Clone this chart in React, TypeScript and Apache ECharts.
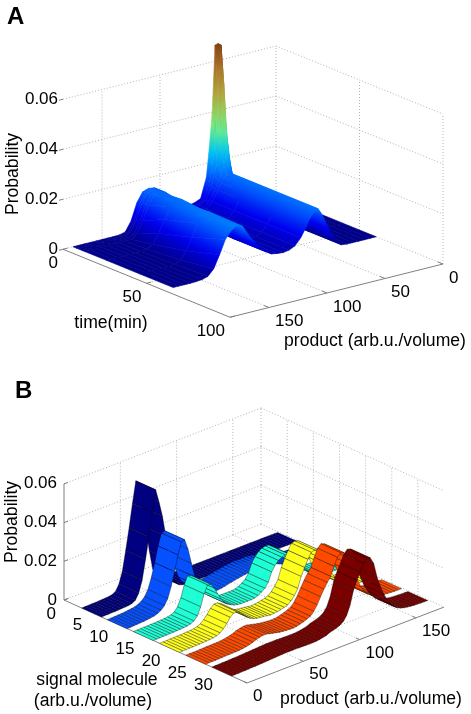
import React, { useEffect, useRef } from "react";
import * as echarts from "echarts";

// ---------- Panel A data ----------
const timeTicksA = [0, 50, 100];
const productTicksA = [0, 50, 100, 150];
const probTicks = [0, 0.02, 0.04, 0.06];
const rowTimesA = [0, 1.8, 3, 5.4, 7, 20, 40, 60];
const productColsA = [0, 5, 10, 15, 20, 25, 30, 35, 40, 45, 47.5, 50, 52.5, 55, 57.5, 60, 65, 70, 75, 80, 85, 90, 95, 100, 105, 110, 115, 120, 125, 130, 135, 140, 145, 150, 155, 160, 165, 170, 175];
const probT0 = [0, 0, 0, 0, 0, 0, .0005, .004, .012, .045, .066, .0668, .0665, .04, .026, .0145, .0065, .0055, .005, .0045, .0045, .0048, .0065, .011, .0155, .0158, .015, .0112, .0045, .0007, .0001, 0, 0, 0, 0, 0, 0, 0, 0];
const probT2 = [0, 0, 0, 0, 0, 0, .0004, .0035, .01, .03, .05, .0665, .045, .028, .019, .0125, .0065, .0055, .005, .0045, .0045, .0048, .0065, .0108, .0155, .016, .0152, .0115, .0048, .0009, .0001, 0, 0, 0, 0, 0, 0, 0, 0];
const probT3 = [0, 0, 0, 0, 0, 0, .0004, .003, .009, .022, .033, .045, .03, .021, .016, .0115, .0068, .0052, .0046, .0042, .0042, .0046, .0063, .0105, .0155, .0161, .0154, .012, .0055, .0012, .0002, 0, 0, 0, 0, 0, 0, 0, 0];
const probT5 = [0, 0, 0, 0, 0, 0, .0003, .0028, .008, .0145, .019, .0256, .02, .0165, .014, .0112, .0072, .005, .004, .0036, .0038, .0042, .0063, .0105, .0155, .0162, .0155, .0122, .006, .0015, .0002, 0, 0, 0, 0, 0, 0, 0, 0];
const probT7 = [0, 0, 0, 0, 0, 0, .0003, .0028, .0072, .0125, .015, .017, .0165, .0155, .014, .0112, .0072, .0047, .0035, .003, .0033, .004, .0065, .0105, .0155, .0162, .0155, .0122, .0065, .0018, .0003, 0, 0, 0, 0, 0, 0, 0, 0];
const probT20 = [0, 0, 0, 0, 0, 0, .0003, .0028, .007, .0125, .015, .017, .0163, .0154, .0138, .0112, .0072, .0045, .0034, .003, .0032, .0037, .0055, .0085, .0135, .0168, .017, .015, .0105, .0055, .0018, .0005, .0001, 0, 0, 0, 0, 0, 0];
const probT40 = [0, 0, 0, 0, 0, 0, .0003, .0028, .007, .0125, .015, .017, .0163, .0154, .0138, .0112, .0072, .0045, .0034, .003, .0032, .0036, .005, .0078, .0115, .0155, .0178, .0175, .0145, .0095, .0045, .0015, .0004, .0001, 0, 0, 0, 0, 0];
const probT60 = [0, 0, 0, 0, 0, 0, .0003, .0028, .007, .0125, .015, .017, .0162, .0152, .0138, .0112, .0072, .0045, .0034, .003, .0032, .0036, .005, .0072, .0102, .0135, .0175, .0184, .017, .014, .0085, .0035, .001, .0003, .0001, 0, 0, 0, 0];
const rowsA = [probT0, probT2, probT3, probT5, probT7, probT20, probT40, probT60];

// colour scale of panel A
const scaleZ = [0, .008, .017, .025, .034, .045, .055, .067];
const scaleColors = ["#000088", "#0000f0", "#0070ff", "#00c8f0", "#70f080", "#b0b040", "#b08030", "#844014"];

// ---------- Panel B data ----------
const signalTicksB = [0, 5, 10, 15, 20, 25, 30];
const productTicksB = [0, 50, 100, 150];
const ribbonCenters = [5.3, 10.2, 15.2, 20.2, 25.2, 30.2];
const ribbonColors = ["#000080", "#0550ff", "#1effd6", "#ffff1e", "#ff4a00", "#7a0000"];
const productStepB = 3; // sampling step of each ribbon
const ribbon1 = [0, .0001, .0001, .0002, .0002, .0003, .0004, .0005, .0006, .001, .002, .005, .011, .021, .032, .044, .055, .048, .04, .029, .016, .006, .003, .0012, .0006, .0003, .0003, .0002, .0002, .0002, .0002, .0001, .0001, .0001, .0001, .0001, .0001, .0001, .0001, .0001, .0001, .0001, .0001, .0001, .0001, .0001, .0001, .0001, .0001, .0001, .0001, .0001, .0001, .0001, .0001, .0001, .0001, .0001, 0];
const ribbon2 = [0, .0001, .0002, .0003, .0004, .0005, .0007, .0009, .0012, .0018, .0028, .0045, .0075, .013, .02, .028, .034, .0345, .029, .021, .0134, .008, .005, .003, .002, .0018, .0018, .002, .0022, .0025, .003, .0033, .0037, .004, .0043, .0046, .0048, .005, .005, .005, .005, .005, .0048, .0045, .004, .0032, .0024, .0018, .0012, .0008, .0005, .0003, .0002, .0001, .0001, .0001, .0001, .0001, 0];
const ribbon3 = [0, .0001, .0001, .0002, .0002, .0003, .0003, .0004, .0005, .0006, .0008, .0012, .002, .004, .008, .014, .018, .0175, .015, .0115, .008, .0055, .004, .003, .0022, .0018, .0016, .0016, .0016, .0016, .0018, .0024, .0035, .0048, .0072, .0119, .0145, .0165, .0175, .018, .0178, .0165, .014, .0115, .009, .0065, .0045, .003, .002, .0013, .0008, .0005, .0003, .0002, .0001, .0001, .0001, .0001, 0];
const ribbon4 = [0, .0001, .0001, .0002, .0002, .0003, .0003, .0004, .0005, .0006, .0008, .0012, .002, .0035, .0055, .008, .0095, .0095, .0085, .0065, .0048, .0035, .0027, .0022, .002, .0018, .0015, .0012, .0014, .0016, .002, .0024, .003, .0045, .0065, .0095, .015, .019, .0225, .0255, .026, .0255, .023, .019, .015, .011, .0075, .005, .0033, .0021, .0013, .0008, .0005, .0003, .0002, .0001, .0001, .0001, 0];
const ribbon5 = [0, .0001, .0001, .0001, .0002, .0002, .0003, .0003, .0004, .0004, .0005, .0007, .001, .0014, .002, .0027, .0032, .0035, .0035, .003, .0026, .0022, .0018, .0016, .0014, .0013, .0013, .0015, .002, .0025, .0032, .004, .0058, .0085, .012, .0152, .018, .0205, .025, .029, .0307, .03, .027, .0225, .0175, .013, .009, .006, .004, .0027, .0018, .0012, .0008, .0005, .0003, .0002, .0001, .0001, 0];
const ribbon6 = [0, .0001, .0001, .0002, .0002, .0003, .0004, .0004, .0005, .0006, .0007, .0008, .0009, .001, .0011, .0012, .0013, .0013, .0013, .0013, .0012, .0012, .0011, .0011, .0011, .0012, .0014, .0018, .0022, .003, .0035, .004, .0048, .006, .0085, .013, .02, .0245, .028, .032, .034, .0335, .03, .0222, .0165, .012, .0085, .0058, .0037, .0023, .0015, .001, .0007, .0005, .0003, .0002, .0001, .0001, 0];
const ribbons = [ribbon1, ribbon2, ribbon3, ribbon4, ribbon5, ribbon6];
const ribbonHalfWidth = 1.9;

// ---------- Projections ----------
const QMAX_A = 183.6, TMAX_A = 100;
const projA = (t: number, q: number, z: number) => [276 + 1.67 * t - 1.16 * q, 196 + 0.68 * t + 0.29 * q - 2500 * z];
const QMAX_B = 175, SMAX_B = 35;
const projB = (s: number, q: number, z: number) => [64 + 5.229 * s + 1.126 * q, 600 + 2.371 * s - 0.434 * q - 1935 * z];

// ---------- Helpers ----------
const hex = (c: string) => [1, 3, 5].map((i) => parseInt(c.slice(i, i + 2), 16));
function heat(z: number) {
  const v = Math.max(scaleZ[0], Math.min(z, scaleZ[scaleZ.length - 1]));
  let i = 0;
  while (i < scaleZ.length - 2 && v > scaleZ[i + 1]) i++;
  const f = (v - scaleZ[i]) / (scaleZ[i + 1] - scaleZ[i]);
  const a = hex(scaleColors[i]), b = hex(scaleColors[i + 1]);
  return `rgb(${a.map((x, k) => Math.round(x + (b[k] - x) * f)).join(",")})`;
}

const GRID = { stroke: "#b4b4b4", lineWidth: 1, lineDash: [1, 2] };
const AXIS = { stroke: "#808080", lineWidth: 1 };
const seg = (p: number[], r: number[], style: any) => ({ type: "line", silent: true, shape: { x1: p[0], y1: p[1], x2: r[0], y2: r[1] }, style });

const FONT = '17px "Liberation Sans", Arial, sans-serif';
const TITLE = '17.6px "Liberation Sans", Arial, sans-serif';
const txt = (text: string, x: number, y: number, align: string, font = FONT, rotation = 0) => ({
  type: "text", x, y, rotation, silent: true,
  style: { text, font, fill: "#000", align, verticalAlign: "middle" },
});

function wallLinesA() {
  const out: any[] = [];
  for (const z of probTicks) {
    if (z > 0) {
      out.push(seg(projA(0, QMAX_A, z), projA(0, 0, z), GRID));
      out.push(seg(projA(0, 0, z), projA(TMAX_A, 0, z), GRID));
    }
  }
  const top = probTicks[probTicks.length - 1];
  for (const q of productTicksA) {
    out.push(seg(projA(0, q, 0), projA(0, q, top), GRID));
    if (q > 0) out.push(seg(projA(0, q, 0), projA(TMAX_A, q, 0), GRID));
  }
  for (const t of timeTicksA) {
    if (t > 0) out.push(seg(projA(t, 0, 0), projA(t, 0, top), GRID));
    if (t > 0 && t < TMAX_A) out.push(seg(projA(t, 0, 0), projA(t, QMAX_A, 0), GRID));
  }
  out.push(seg(projA(0, 0, 0), projA(0, QMAX_A, 0), GRID));
  out.push(seg(projA(0, 0, 0), projA(TMAX_A, 0, 0), GRID));
  // solid floor edges and tick marks
  out.push(seg(projA(0, QMAX_A, 0), projA(TMAX_A, QMAX_A, 0), AXIS));
  out.push(seg(projA(TMAX_A, QMAX_A, 0), projA(TMAX_A, 0, 0), AXIS));
  for (const t of timeTicksA) out.push(seg(projA(t, QMAX_A, 0), projA(t, QMAX_A - 4, 0), AXIS));
  for (const q of productTicksA) out.push(seg(projA(TMAX_A, q, 0), projA(TMAX_A - 3, q, 0), AXIS));
  for (const z of probTicks) {
    const p = projA(0, QMAX_A, z);
    out.push(seg(p, [p[0] - 4, p[1] + 1], AXIS));
  }
  return out;
}

function wallLinesB() {
  const out: any[] = [];
  const top = probTicks[probTicks.length - 1];
  for (const z of probTicks) {
    if (z > 0) {
      out.push(seg(projB(0, 0, z), projB(0, QMAX_B, z), GRID));
      out.push(seg(projB(0, QMAX_B, z), projB(SMAX_B, QMAX_B, z), GRID));
    }
  }
  for (const q of productTicksB) {
    if (q > 0) {
      out.push(seg(projB(0, q, 0), projB(0, q, top), GRID));
      out.push(seg(projB(0, q, 0), projB(SMAX_B, q, 0), GRID));
    }
  }
  out.push(seg(projB(0, QMAX_B, 0), projB(0, QMAX_B, top), GRID));
  for (const s of signalTicksB) {
    if (s > 0) {
      out.push(seg(projB(s, QMAX_B, 0), projB(s, QMAX_B, top), GRID));
      out.push(seg(projB(s, 0, 0), projB(s, QMAX_B, 0), GRID));
    }
  }
  out.push(seg(projB(0, QMAX_B, 0), projB(SMAX_B, QMAX_B, 0), GRID));
  out.push(seg(projB(0, 0, 0), projB(0, QMAX_B, 0), GRID));
  out.push(seg(projB(0, 0, 0), projB(SMAX_B, 0, 0), AXIS));
  out.push(seg(projB(SMAX_B, 0, 0), projB(SMAX_B, QMAX_B, 0), AXIS));
  out.push(seg(projB(0, 0, 0), projB(0, 0, top), AXIS));
  for (const s of signalTicksB) out.push(seg(projB(s, 0, 0), projB(s, 4, 0), AXIS));
  for (const q of productTicksB) out.push(seg(projB(SMAX_B, q, 0), projB(SMAX_B - 0.7, q, 0), AXIS));
  for (const z of probTicks) {
    const p = projB(0, 0, z);
    out.push(seg(p, [p[0] + 4, p[1] - 1.5], AXIS));
  }
  return out;
}

function surfaceData() {
  const d: number[][] = [];
  for (let i = 0; i < rowTimesA.length - 1; i++) {
    for (let j = 0; j < productColsA.length - 1; j++) {
      d.push([rowTimesA[i], rowTimesA[i + 1], productColsA[j], productColsA[j + 1], rowsA[i][j], rowsA[i][j + 1], rowsA[i + 1][j], rowsA[i + 1][j + 1]]);
    }
  }
  return d;
}

function ribbonData() {
  const d: number[][] = [];
  ribbons.forEach((r, k) => {
    for (let j = r.length - 2; j >= 0; j--) {
      d.push([ribbonCenters[k], j * productStepB, (j + 1) * productStepB, r[j], r[j + 1], k]);
    }
  });
  return d;
}

// colour of a quad: a linear gradient fitted to how z varies over its picture area
function quadPaint(pts: number[][], zs: number[]) {
  const zl = Math.min(...zs), zh = Math.max(...zs);
  const mean = (zl + zh) / 2;
  if (zh - zl < 1e-4) return heat(mean);
  const mx = pts.reduce((a, p) => a + p[0], 0) / 4, my = pts.reduce((a, p) => a + p[1], 0) / 4;
  const mz = zs.reduce((a, v) => a + v, 0) / 4;
  let xx = 0, xy = 0, yy = 0, xz = 0, yz = 0;
  pts.forEach((p, i) => {
    const dx = p[0] - mx, dy = p[1] - my, dz = zs[i] - mz;
    xx += dx * dx; xy += dx * dy; yy += dy * dy; xz += dx * dz; yz += dy * dz;
  });
  const det = xx * yy - xy * xy;
  if (Math.abs(det) < 1e-6) return heat(mean);
  const a = (xz * yy - yz * xy) / det, b = (yz * xx - xz * xy) / det;
  const g2 = a * a + b * b;
  if (g2 < 1e-14) return heat(mean);
  const at = (z: number) => [mx + (a * (z - mz)) / g2, my + (b * (z - mz)) / g2];
  const p0 = at(zl), p1 = at(zh);
  const stops = [0, 0.25, 0.5, 0.75, 1].map((o) => ({ offset: o, color: heat(zl + (zh - zl) * o) }));
  return new echarts.graphic.LinearGradient(p0[0], p0[1], p1[0], p1[1], stops, true);
}

const renderSurface = (_: any, api: any) => {
  const t0 = api.value(0), t1 = api.value(1), q0 = api.value(2), q1 = api.value(3);
  const c = [[t0, q0, api.value(4)], [t0, q1, api.value(5)], [t1, q1, api.value(7)], [t1, q0, api.value(6)]];
  const pts = c.map((v) => projA(v[0], v[1], v[2]));
  const paint = quadPaint(pts, c.map((v) => v[2]));
  return { type: "polygon", silent: true, shape: { points: pts }, style: { fill: paint, stroke: paint, lineWidth: 0.6 } };
};

const renderRibbon = (_: any, api: any) => {
  const s = api.value(0), q0 = api.value(1), q1 = api.value(2), z0 = api.value(3), z1 = api.value(4), k = api.value(5);
  const s0 = s - ribbonHalfWidth, s1 = s + ribbonHalfWidth;
  const pts = [projB(s0, q0, z0), projB(s0, q1, z1), projB(s1, q1, z1), projB(s1, q0, z0)];
  return { type: "polygon", silent: true, shape: { points: pts }, style: { fill: ribbonColors[k], stroke: "rgba(0,0,0,0.7)", lineWidth: 0.5 } };
};

const group = (children: any[]) => ({
  type: "custom", coordinateSystem: "none", silent: true, data: [[0]],
  renderItem: () => ({ type: "group", children }),
});

function labels() {
  const out: any[] = [];
  out.push(txt("A", 7, 15, "left", 'bold 24px "Liberation Sans", Arial, sans-serif'));
  out.push(txt("B", 15, 389, "left", 'bold 24px "Liberation Sans", Arial, sans-serif'));
  for (const z of probTicks) {
    const a = projA(0, QMAX_A, z);
    out.push(txt(z === 0 ? "0" : z.toFixed(2), a[0] - 5, a[1] - 1, "right"));
    const b = projB(0, 0, z);
    out.push(txt(z === 0 ? "0" : z.toFixed(2), b[0] - 7, b[1] - 1, "right"));
  }
  for (const t of timeTicksA) {
    const p = projA(t, QMAX_A, 0);
    out.push(txt(String(t), p[0] - 5, p[1] + 13, "right"));
  }
  for (const q of productTicksA) {
    const p = projA(TMAX_A, q, 0);
    out.push(txt(String(q), p[0] + 6, p[1] + 13, "left"));
  }
  for (const s of signalTicksB) {
    const p = projB(s, 0, 0);
    out.push(txt(String(s), p[0] - 8, p[1] + 13, "right"));
  }
  for (const q of productTicksB) {
    const p = projB(SMAX_B, q, 0);
    out.push(txt(String(q), p[0] + 6, p[1] + 12.5, "left"));
  }
  out.push(txt("Probability", 12, 174, "center", TITLE, Math.PI / 2));
  out.push(txt("time(min)", 111, 322, "center", TITLE));
  out.push(txt("product (arb.u./volume)", 375, 340, "center", TITLE));
  out.push(txt("Probability", 11, 522, "center", TITLE, Math.PI / 2));
  out.push(txt("signal molecule", 97, 679, "center", TITLE));
  out.push(txt("(arb.u./volume)", 93, 700, "center", TITLE));
  out.push(txt("product (arb.u./volume)", 371, 698, "center", TITLE));
  return out;
}

export default function App() {
  const ref = useRef<HTMLDivElement>(null);
  useEffect(() => {
    document.body.style.margin = "0";
    document.body.style.background = "#fff";
    const chart = echarts.init(ref.current!, undefined, { renderer: "svg" });
    chart.setOption({
      animation: false,
      backgroundColor: "#fff",
      tooltip: { show: false },
      series: [
        group(wallLinesA()),
        group(wallLinesB()),
        { type: "custom", coordinateSystem: "none", silent: true, data: surfaceData(), renderItem: renderSurface },
        { type: "custom", coordinateSystem: "none", silent: true, data: ribbonData(), renderItem: renderRibbon },
      ],
      graphic: labels(),
    });
    return () => chart.dispose();
  }, []);
  return <div ref={ref} style={{ width: 471, height: 714, filter: "blur(0.35px)" }} />;
}
